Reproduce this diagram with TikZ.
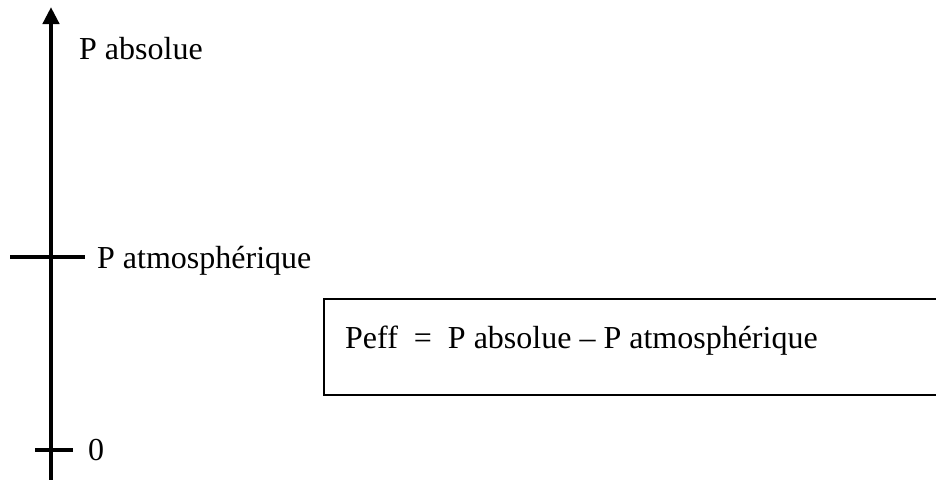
\documentclass[tikz,border=0pt]{standalone}
\usepackage{fontspec}
\setmainfont{Liberation Serif}
\usetikzlibrary{arrows.meta}
\begin{document}
\begin{tikzpicture}[x=1pt,y=-1pt,
  lbl/.style={inner sep=0pt,anchor=base west,font=\fontsize{32}{36}\selectfont},
  axisline/.style={line width=4.3pt},
  tickline/.style={line width=4.6pt}]
\useasboundingbox (0,0) rectangle (936,479);
\clip (0,0) rectangle (936,479);
\coordinate (bot) at (51,485);
\coordinate (top) at (51,7);
\draw[axisline,-{Triangle[width=16pt,length=17pt]}] (bot) -- (top);
\coordinate (t1a) at (10,257);
\coordinate (t1b) at (85,257);
\draw[tickline] (t1a) -- (t1b);
\coordinate (t0a) at (35,450);
\coordinate (t0b) at (73,450);
\draw[tickline] (t0a) -- (t0b);
\node[lbl] (pabs) at (79,59) {P absolue};
\node[lbl] (patm) at (97,268) {P atmosphérique};
\node[lbl] (zero) at (88,460) {0};
\node[draw,line width=1.5pt,minimum width=630pt,minimum height=96pt,anchor=north west,inner sep=0pt] (box) at (323,298) {};
\node[lbl] (eq) at (345,348) {Peff \ = \ P absolue – P atmosphérique};
\end{tikzpicture}
\end{document}
